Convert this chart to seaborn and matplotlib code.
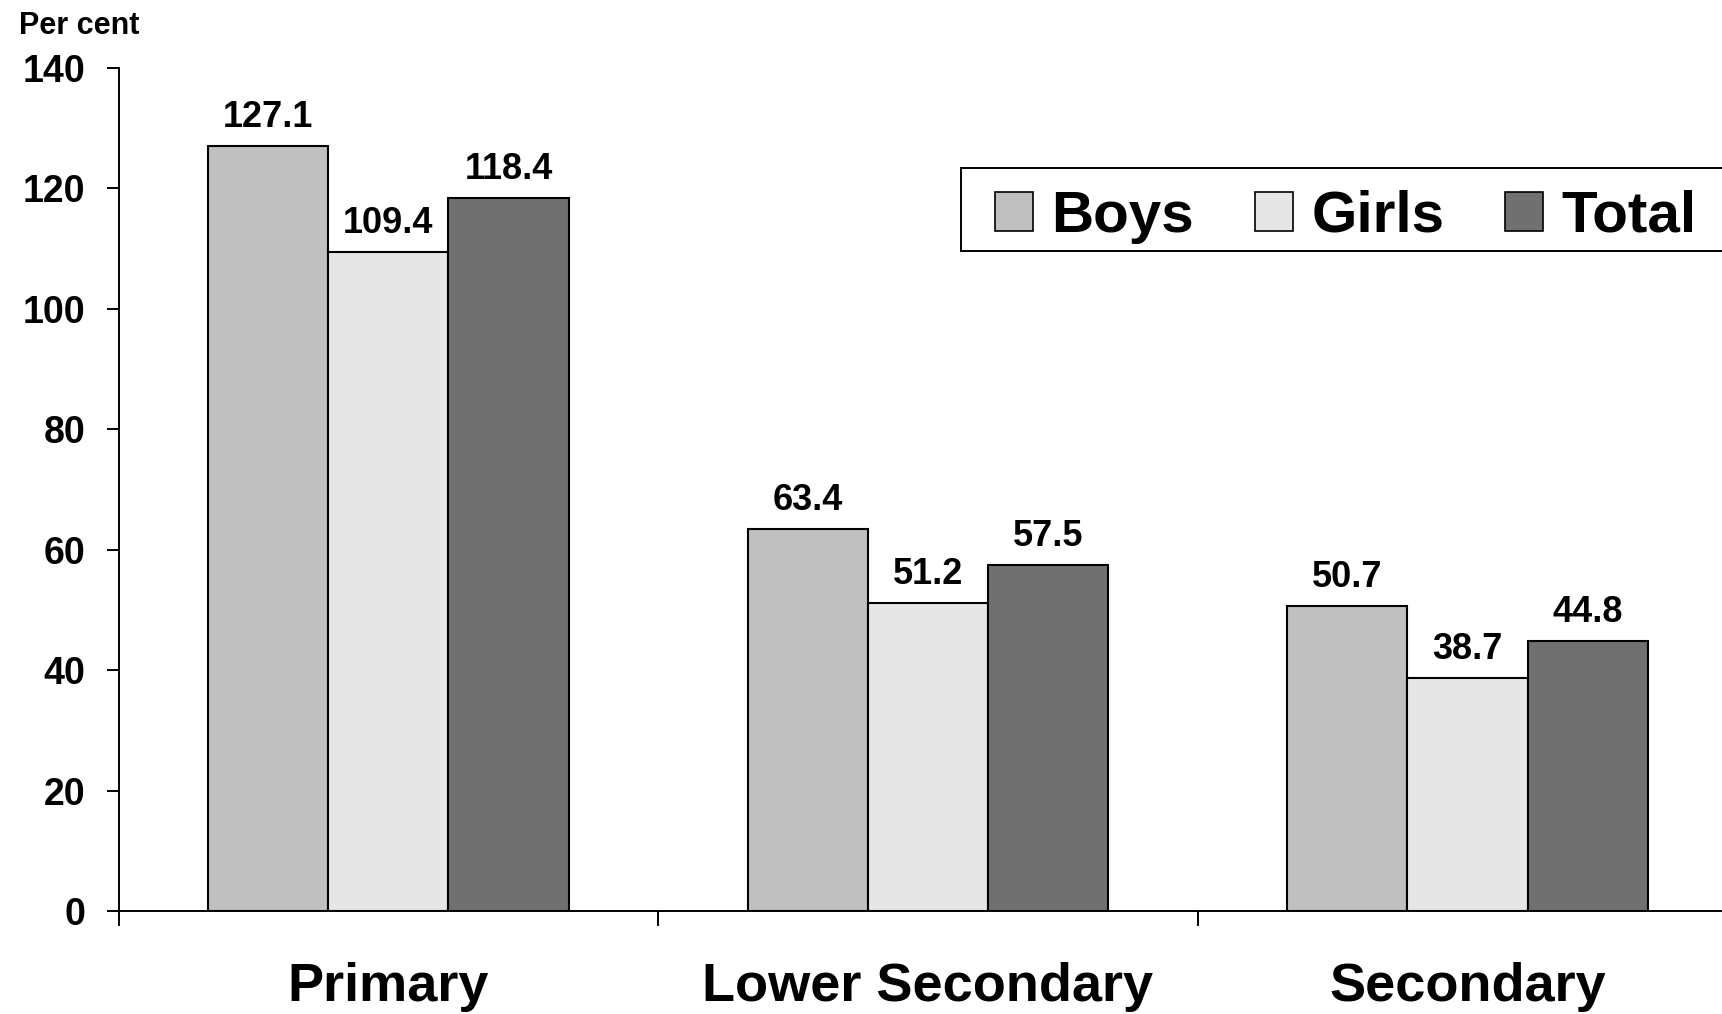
import numpy as np
import pandas as pd
import matplotlib
matplotlib.use('Agg')
import matplotlib.pyplot as plt
import seaborn as sns
from matplotlib.patches import Patch, Rectangle

levels = ['Primary', 'Lower Secondary', 'Secondary']
groups = ['Boys', 'Girls', 'Total']
boys = [127.1, 63.4, 50.7]
girls = [109.4, 51.2, 38.7]
total = [118.4, 57.5, 44.8]
yticks = [0, 20, 40, 60, 80, 100, 120, 140]
colors = ['#c0c0c0', '#e6e6e6', '#707070']

df = pd.DataFrame({
    'level': levels * 3,
    'group': [g for g in groups for _ in levels],
    'value': boys + girls + total,
})

sns.set_style('white')
plt.rcParams['font.family'] = ['Liberation Sans', 'DejaVu Sans']
plt.rcParams['font.weight'] = 'bold'
plt.rcParams['text.color'] = 'black'
plt.rcParams['xtick.color'] = 'black'
plt.rcParams['ytick.color'] = 'black'
plt.rcParams['axes.labelcolor'] = 'black'

fig = plt.figure(figsize=(17.22, 10.14), dpi=100)
ax = fig.add_axes([0.0689, 0.1016, 0.94, 0.8314])

sns.barplot(data=df, x='level', y='value', hue='group', order=levels, hue_order=groups,
            palette=colors, width=0.668, gap=0, edgecolor='black', linewidth=1.5,
            saturation=1, legend=False, ax=ax)

for c in ax.containers:
    ax.bar_label(c, fmt='%.1f', padding=8, fontsize=26, fontweight='bold', color='black')

ax.set_xlim(-0.5, 2.5)
ax.set_ylim(0, 140)
ax.set_yticks(yticks)
ax.set_xticks([-0.5, 0.5, 1.5, 2.5], minor=True)
ax.set_xlabel(None)
ax.set_ylabel(None)
ax.spines[['right', 'top']].set_visible(False)
ax.spines[['left', 'bottom']].set_linewidth(1.4)
ax.spines[['left', 'bottom']].set_color('black')
ax.tick_params(axis='y', which='major', left=True, length=9, width=1.4, pad=15, labelsize=27)
ax.tick_params(axis='x', which='major', bottom=False, length=0, pad=37, labelsize=39)
ax.tick_params(axis='x', which='minor', bottom=True, length=11, width=1.4)
for lbl in ax.get_xticklabels() + ax.get_yticklabels():
    lbl.set_fontweight('bold')

fig.text(0.011, 0.989, 'Per cent', fontsize=22, fontweight='bold', va='top', ha='left')

# legend box (runs off the right edge like the original)
fig.add_artist(Rectangle((0.558, 0.752), 0.5, 0.082, transform=fig.transFigure,
                         facecolor='white', edgecolor='black', linewidth=1.4, zorder=4))
handles = [Patch(facecolor=c, edgecolor='black', linewidth=1.2) for c in colors]
leg = fig.legend(handles, groups, loc='center left', bbox_to_anchor=(0.578, 0.786), ncol=3,
                 prop={'weight': 'bold', 'size': 42}, frameon=False,
                 handlelength=0.64, handleheight=0.64,
                 handletextpad=0.32, columnspacing=1.05, borderpad=0, borderaxespad=0)
leg.set_zorder(5)

fig.savefig('out.png', dpi=100)
